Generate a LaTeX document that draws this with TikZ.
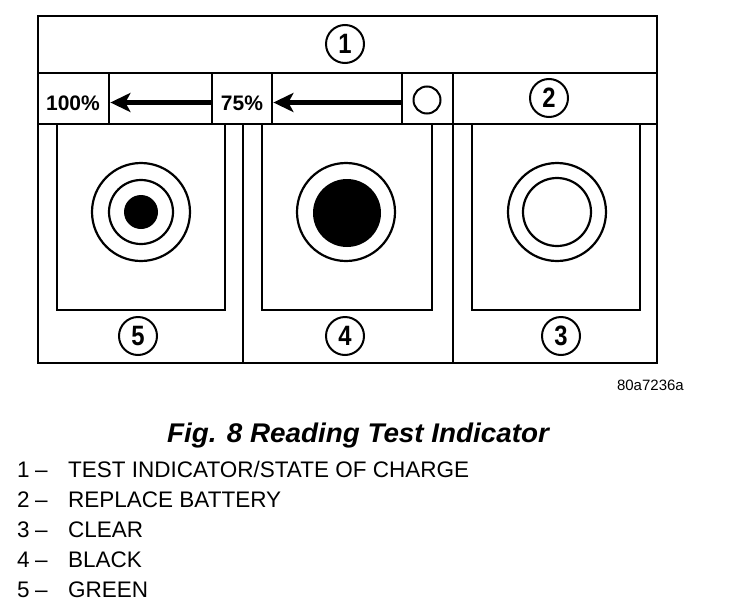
\documentclass[tikz,border=0pt]{standalone}
\usepackage{fontspec}
\setmainfont{Liberation Sans}
\newfontfamily\numfont[FakeStretch=0.85]{Liberation Sans}
\newfontfamily\titlefont[FakeStretch=1.03]{Liberation Sans}
\usetikzlibrary{arrows.meta}

\begin{document}
\begin{tikzpicture}[x=1pt, y=-1pt,
    frame/.style={line width=2.8pt},
    cell/.style={draw, line width=2.8pt, minimum height=51pt, inner sep=0pt},
    window/.style={draw, line width=2.5pt, minimum height=186pt, inner sep=0pt},
    numcirc/.style={circle, draw, line width=2pt, minimum size=38pt, inner sep=0pt,
        font=\numfont\bfseries\fontsize{28}{28}\selectfont},
    pct/.style={inner sep=0pt, font=\bfseries\fontsize{21}{21}\selectfont},
    fatarrow/.style={line width=5pt, -{Stealth[length=20pt, width=19pt, inset=5pt]}},
    ring/.style={line width=2.2pt},
    item/.style={anchor=base west, inner sep=0pt, font=\fontsize{22.5}{22.5}\selectfont}]

    \useasboundingbox (0,0) rectangle (736,608);

    % 外框
    \draw[frame] (38,16) rectangle (657,363);
    \draw[frame] (38,73) -- (657,73);
    \draw[frame] (38,124) -- (657,124);
    \foreach \x in {243,453} \draw[frame] (\x,124) -- (\x,363);

    % 电量刻度
    \node[cell, minimum width=71pt] (c100) at (73.5,98.5) {};
    \node[cell, minimum width=60pt] (c75) at (242,98.5) {};
    \node[cell, minimum width=51pt] (cempty) at (427.5,98.5) {};
    \node[pct] (p100) at (73,103) {100\%};
    \node[pct] (p75) at (242,103) {75\%};
    \node[circle, draw, line width=2pt, minimum size=27pt] (o) at (427,100) {};
    \draw[fatarrow] ([yshift=-4pt]c75.west) -- ([yshift=-4pt]c100.east);
    \draw[fatarrow] ([yshift=-4pt]cempty.west) -- ([yshift=-4pt]c75.east);

    \node[numcirc] (n1) at (345,44) {1};
    \node[numcirc] (n2) at (549,98) {2};

    % 观察窗
    \node[window, minimum width=168pt] (win5) at (141,217) {};
    \node[window, minimum width=170pt] (win4) at (347,217) {};
    \node[window, minimum width=168pt] (win3) at (556,217) {};

    % 绿
    \draw[ring] (141,212) circle (49pt);
    \draw[ring] (141,212) circle (32pt);
    \fill (141,212) circle (17pt);
    % 黑
    \draw[ring] (346,212) circle (49pt);
    \fill (347,213) circle (34pt);
    % 透明
    \draw[ring] (557,212) circle (49pt);
    \draw[ring] (557,212) circle (34pt);

    \node[numcirc] (n5) at (138,336) {5};
    \node[numcirc] (n4) at (345,336) {4};
    \node[numcirc] (n3) at (561,336) {3};

    % 图号与说明
    \node[anchor=base east, inner sep=0pt, font=\fontsize{15}{15}\selectfont] (code) at (684,390) {80a7236a};
    \node[anchor=base, inner sep=0pt, font=\titlefont\bfseries\itshape\fontsize{27}{27}\selectfont] (title) at (358,442) {Fig. 8 Reading Test Indicator};

    \foreach \n/\t [count=\i] in {1/{TEST INDICATOR/STATE OF CHARGE}, 2/{REPLACE BATTERY},
        3/{CLEAR}, 4/{BLACK}, 5/{GREEN}} {
        \node[item] (num\n) at (17,447+30*\i) {\n};
        \node[item] (dash\n) at (35,447+30*\i) {--};
        \node[item] (txt\n) at (68,447+30*\i) {\t};
    }
\end{tikzpicture}
\end{document}
